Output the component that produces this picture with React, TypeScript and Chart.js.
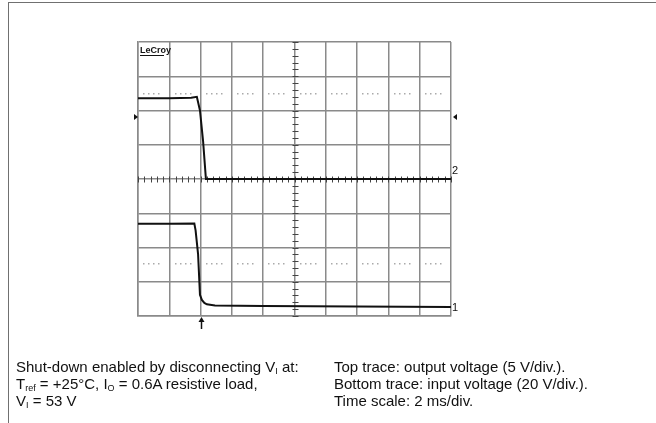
import React, { useEffect, useRef } from "react";
import { Chart, registerables } from "chart.js";

Chart.register(...registerables);

// Time axis: 2 ms/div, 10 divisions. Vertical axis: 8 divisions.
const X_MIN_MS = 0;
const X_MAX_MS = 20;
const X_STEP_MS = 2;
const Y_MIN_DIV = 0;
const Y_MAX_DIV = 8;

// Top trace: output voltage (5 V/div), position in divisions
const topTimeMs = [0, 2, 3.4, 3.76, 3.96, 4.16, 4.34, 6, 10, 14, 20];
const topDiv = [6.36, 6.36, 6.37, 6.4, 6.0, 5.1, 4.0, 4.0, 4.0, 4.0, 4.0];

// Bottom trace: input voltage (20 V/div), position in divisions
const bottomTimeMs = [0, 2, 3.6, 3.68, 3.84, 3.96, 4.08, 4.24, 4.4, 4.92, 8, 14, 20];
const bottomDiv = [2.69, 2.69, 2.7, 2.5, 1.8, 0.62, 0.47, 0.38, 0.34, 0.31, 0.29, 0.28, 0.26];

// Dotted reference levels (divisions)
const refDotLevels = [6.48, 1.52];
const dotOffsets = [0.2, 0.36, 0.52, 0.68];

// Marker positions
const trigLevelDiv = 5.81;
const triggerTimeMs = 4.0;
const ch2GroundDiv = 4.0;
const ch1GroundDiv = 0.26;

const scopePlugin = {
  id: "scopeDecor",
  beforeDatasetsDraw(chart: any) {
    const { ctx, scales } = chart;
    const x = scales.x;
    const y = scales.y;
    ctx.save();
    // dotted reference lines
    ctx.fillStyle = "#aaaaaa";
    for (const lvl of refDotLevels) {
      const py = Math.round(y.getPixelForValue(lvl));
      for (let d = 0; d < 10; d++) {
        for (const f of dotOffsets) {
          const px = x.getPixelForValue((d + f) * X_STEP_MS);
          ctx.fillRect(Math.round(px) - 1, py - 1, 1.5, 1.5);
        }
      }
    }
    // minor ticks on center axes
    ctx.strokeStyle = "#444";
    ctx.lineWidth = 1;
    const cy = Math.round(y.getPixelForValue(4)) + 0.5;
    for (let i = 0; i <= 50; i++) {
      const px = Math.round(x.getPixelForValue((i / 5) * X_STEP_MS)) + 0.5;
      ctx.beginPath();
      ctx.moveTo(px, cy - 3);
      ctx.lineTo(px, cy + 3);
      ctx.stroke();
    }
    const cx = Math.round(x.getPixelForValue(10)) + 0.5;
    for (let i = 0; i <= 40; i++) {
      const py = Math.round(y.getPixelForValue(i / 5)) + 0.5;
      ctx.beginPath();
      ctx.moveTo(cx - 3, py);
      ctx.lineTo(cx + 3, py);
      ctx.stroke();
    }
    ctx.restore();
  },
  afterDatasetsDraw(chart: any) {
    const { ctx, scales, chartArea } = chart;
    const x = scales.x;
    const y = scales.y;
    ctx.save();
    ctx.fillStyle = "#111";
    ctx.strokeStyle = "#111";
    // trigger level markers
    const ty = y.getPixelForValue(trigLevelDiv);
    ctx.beginPath();
    ctx.moveTo(chartArea.left - 4, ty - 3);
    ctx.lineTo(chartArea.left, ty);
    ctx.lineTo(chartArea.left - 4, ty + 3);
    ctx.closePath();
    ctx.fill();
    ctx.beginPath();
    ctx.moveTo(chartArea.right + 6, ty - 3);
    ctx.lineTo(chartArea.right + 2, ty);
    ctx.lineTo(chartArea.right + 6, ty + 3);
    ctx.closePath();
    ctx.fill();
    // trigger time arrow
    const tx = Math.round(x.getPixelForValue(triggerTimeMs)) + 0.5;
    ctx.lineWidth = 1.5;
    ctx.beginPath();
    ctx.moveTo(tx, chartArea.bottom + 4);
    ctx.lineTo(tx, chartArea.bottom + 13);
    ctx.stroke();
    ctx.beginPath();
    ctx.moveTo(tx - 3, chartArea.bottom + 6);
    ctx.lineTo(tx, chartArea.bottom + 1);
    ctx.lineTo(tx + 3, chartArea.bottom + 6);
    ctx.closePath();
    ctx.fill();
    // channel labels
    ctx.font = "11px 'Liberation Sans', Arial, sans-serif";
    ctx.textAlign = "left";
    ctx.textBaseline = "middle";
    ctx.fillText("2", chartArea.right + 1, y.getPixelForValue(ch2GroundDiv) - 8);
    ctx.fillText("1", chartArea.right + 1, y.getPixelForValue(ch1GroundDiv) + 1);
    // logo
    ctx.font = "bold 9px 'Liberation Sans', Arial, sans-serif";
    ctx.textBaseline = "alphabetic";
    ctx.fillText("LeCroy", chartArea.left + 2, chartArea.top + 11);
    ctx.fillRect(chartArea.left + 2, chartArea.top + 13, 24, 1);
    ctx.restore();
  },
};

export default function App() {
  const ref = useRef<HTMLCanvasElement | null>(null);

  useEffect(() => {
    if (!ref.current) return;
    const chart = new Chart(ref.current, {
      type: "line",
      data: {
        datasets: [
          {
            label: "Output voltage",
            data: topTimeMs.map((t, i) => ({ x: t, y: topDiv[i] })),
            borderColor: "#111",
            borderWidth: 2,
            pointRadius: 0,
            tension: 0,
          },
          {
            label: "Input voltage",
            data: bottomTimeMs.map((t, i) => ({ x: t, y: bottomDiv[i] })),
            borderColor: "#111",
            borderWidth: 2,
            pointRadius: 0,
            tension: 0,
          },
        ],
      },
      options: {
        animation: false,
        responsive: false,
        maintainAspectRatio: false,
        layout: { padding: { left: 138, top: 42, right: 205, bottom: 107 } },
        plugins: { legend: { display: false }, tooltip: { enabled: false } },
        scales: {
          x: {
            type: "linear",
            min: X_MIN_MS,
            max: X_MAX_MS,
            ticks: { display: false, stepSize: X_STEP_MS },
            grid: { color: "#8a8a8a", lineWidth: 1.5, drawTicks: false },
            border: { color: "#8a8a8a", width: 1.5 },
          },
          y: {
            type: "linear",
            min: Y_MIN_DIV,
            max: Y_MAX_DIV,
            ticks: { display: false, stepSize: 1 },
            grid: { color: "#8a8a8a", lineWidth: 1.5, drawTicks: false },
            border: { color: "#8a8a8a", width: 1.5 },
          },
        },
      },
      plugins: [scopePlugin],
    });
    return () => chart.destroy();
  }, []);

  const textStyle: React.CSSProperties = {
    position: "absolute",
    top: 358,
    fontSize: 15,
    lineHeight: "17px",
    color: "#111",
    fontFamily: "'Liberation Sans', Arial, Helvetica, sans-serif",
    whiteSpace: "nowrap",
  };
  const sub: React.CSSProperties = { fontSize: 9, verticalAlign: "-2px", lineHeight: 0 };

  return (
    <div
      style={{
        position: "absolute",
        left: 0,
        top: 0,
        width: 656,
        height: 423,
        background: "#fff",
        overflow: "hidden",
      }}
    >
      <div
        style={{
          position: "absolute",
          left: 8,
          top: 2,
          width: 700,
          height: 500,
          borderLeft: "1px solid #707070",
          borderTop: "1px solid #707070",
        }}
      />
      <canvas ref={ref} width={656} height={423} style={{ position: "absolute", left: 0, top: 0 }} />
      <div style={{ ...textStyle, left: 16 }}>
        <div>
          Shut-down enabled by disconnecting V<span style={sub}>I</span> at:
        </div>
        <div>
          T<span style={sub}>ref</span> = +25°C, I<span style={sub}>O</span> = 0.6A resistive load,
        </div>
        <div>
          V<span style={sub}>I</span> = 53 V
        </div>
      </div>
      <div style={{ ...textStyle, left: 334 }}>
        <div>Top trace: output voltage (5 V/div.).</div>
        <div>Bottom trace: input voltage (20 V/div.).</div>
        <div>Time scale: 2 ms/div.</div>
      </div>
    </div>
  );
}
